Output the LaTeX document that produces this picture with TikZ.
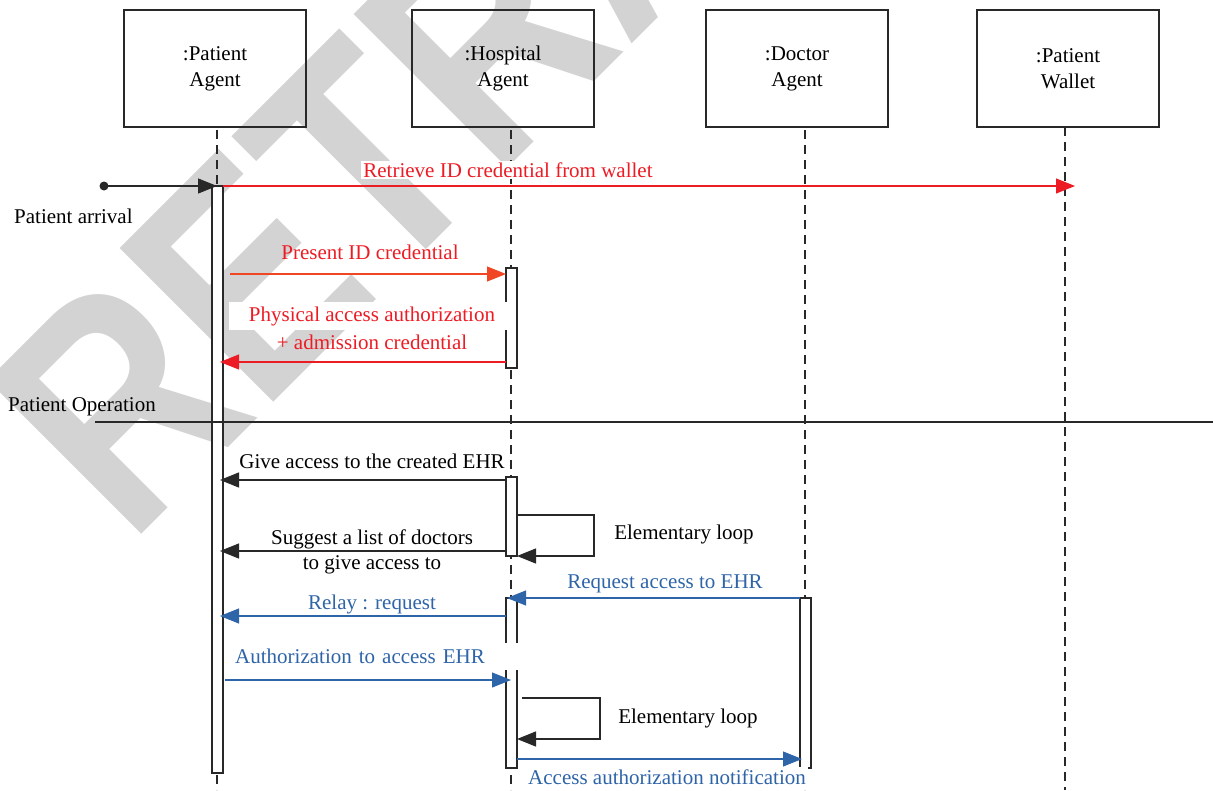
\documentclass[tikz,border=0pt]{standalone}
\usepackage{fontspec}
\setmainfont{Liberation Serif}
\newfontfamily\wmfont{Liberation Sans}
\usetikzlibrary{arrows.meta}
\definecolor{myred}{RGB}{237,28,36}
\definecolor{myorange}{RGB}{240,70,35}
\definecolor{myblue}{RGB}{46,100,168}
\definecolor{ink}{RGB}{40,40,40}
\definecolor{wm}{RGB}{211,211,211}
\begin{document}
\begin{tikzpicture}[x=1pt,y=-1pt,font=\fontsize{21}{26}\selectfont,
  actor/.style={draw=ink,line width=1.3pt,minimum width=182pt,minimum height=117pt,align=center,inner sep=0pt},
  life/.style={draw=ink,dash pattern=on 9pt off 6pt,line width=1.1pt},
  actbar/.style={draw=ink,fill=white,line width=1.1pt},
  msg/.style={line width=1.3pt,-{Triangle[length=19pt,width=15pt]}},
  lbl/.style={inner sep=1pt,align=center},
  wlbl/.style={inner sep=2pt,align=center,fill=white},
]
\useasboundingbox (0,0) rectangle (1213,790);
% watermark
\node[wm,font=\wmfont\bfseries\fontsize{316}{316}\selectfont,rotate=45,anchor=base west,inner sep=0pt] (wmark) at (129,547) {\scalebox{0.82}[1]{RETRACTED}};

% actors
\node[actor] (pa) at (215,68.5) {:Patient\\Agent};
\node[actor] (ha) at (503,68.5) {:Hospital\\Agent};
\node[actor] (da) at (797,68.5) {:Doctor\\Agent};
\node[actor] (pw) at (1068,68.5) {:Patient\\Wallet};

% lifelines
\coordinate (pt) at (217,130); \coordinate (pb) at (217,790);
\coordinate (ht) at (511,130); \coordinate (hb) at (511,790);
\coordinate (dt) at (805,130); \coordinate (db) at (805,790);
\coordinate (wt) at (1065,127); \coordinate (wb) at (1065,790);
\draw[life] (pt) -- (pb);
\draw[life] (ht) -- (hb);
\draw[life] (dt) -- (db);
\draw[life] (wt) -- (wb);

% activation bars
\path[actbar] (212,186) rectangle (223,773);
\path[actbar] (506,268) rectangle (517,368);
\path[actbar] (506,477) rectangle (517,556);
\path[actbar] (506,598) rectangle (517,768);
\path[actbar] (800,598) rectangle (811,768);

% separator
\coordinate (sepL) at (95,422); \coordinate (sepR) at (1213,422);
\draw[ink,line width=1.2pt] (sepL) -- (sepR);
\node[anchor=west,inner sep=0pt] (opl) at (8,407) {Patient Operation};

% entry
\coordinate (start) at (104,186); \coordinate (entry) at (217,186);
\fill[ink] (start) circle (4.5pt);
\draw[msg,ink] (start) -- (entry);
\node[anchor=west,inner sep=0pt] (arr) at (14,216) {Patient arrival};

% red messages
\coordinate (r1a) at (223,186); \coordinate (r1b) at (1075,186);
\draw[msg,myred,line width=1.1pt] (r1a) -- (r1b);
\node[wlbl,text=myred] (l1) at (508,170) {Retrieve ID credential from wallet};

\coordinate (r2a) at (230,274); \coordinate (r2b) at (506,274);
\draw[msg,myorange,line width=1.1pt] (r2a) -- (r2b);
\node[lbl,text=myred] (l2) at (370,252) {Present ID credential};

\coordinate (r3a) at (506,362); \coordinate (r3b) at (220,362);
\draw[msg,myred,line width=1.1pt] (r3a) -- (r3b);
\node[fill=white,inner xsep=20pt,inner ysep=4pt,text=myred] (l3a) at (372,316) {Physical access authorization};
\node[lbl,text=myred] (l3b) at (372,342) {+ admission credential};

% black messages
\coordinate (b1a) at (506,480); \coordinate (b1b) at (220,480);
\draw[msg,ink] (b1a) -- (b1b);
\node[lbl] (l4) at (372,461) {Give access to the created EHR};

\coordinate (lp1a) at (517,515); \coordinate (lp1b) at (594,515);
\coordinate (lp1c) at (594,556); \coordinate (lp1d) at (517,556);
\draw[msg,ink] (lp1a) -- (lp1b) -- (lp1c) -- (lp1d);
\node[lbl] (l5) at (684,534) {Elementary loop};

\coordinate (b2a) at (506,551); \coordinate (b2b) at (220,551);
\draw[msg,ink] (b2a) -- (b2b);
\node[lbl] (l6a) at (372,539) {Suggest a list of doctors};
\node[lbl] (l6b) at (372,565) {to give access to};

% blue messages
\coordinate (u1a) at (800,598) ; \coordinate (u1b) at (507,598);
\draw[msg,myblue,line width=1.1pt] (u1a) -- (u1b);
\node[lbl,text=myblue] (l7) at (665,584) {Request access to EHR};

\coordinate (u2a) at (506,616); \coordinate (u2b) at (220,616);
\draw[msg,myblue,line width=1.1pt] (u2a) -- (u2b);
\node[lbl,text=myblue] (l8) at (372,604) {Relay : request};

\coordinate (u3a) at (225,680); \coordinate (u3b) at (511,680);
\draw[msg,myblue,line width=1.1pt] (u3a) -- (u3b);
\node[anchor=west,fill=white,inner xsep=10pt,inner ysep=0pt,minimum height=27pt,text width=275pt,align=left,text=myblue] (l9) at (225,656) {Authorization to access EHR};

\coordinate (lp2a) at (522,698); \coordinate (lp2b) at (600,698);
\coordinate (lp2c) at (600,739); \coordinate (lp2d) at (517,739);
\draw[msg,ink] (lp2a) -- (lp2b) -- (lp2c) -- (lp2d);
\node[lbl] (l10) at (688,718) {Elementary loop};

\coordinate (u4a) at (517,759); \coordinate (u4b) at (802,759);
\draw[msg,myblue,line width=1.1pt] (u4a) -- (u4b);
\node[wlbl,text=myblue,inner ysep=3pt] (l11) at (667,777) {Access authorization notification};
\end{tikzpicture}
\end{document}
